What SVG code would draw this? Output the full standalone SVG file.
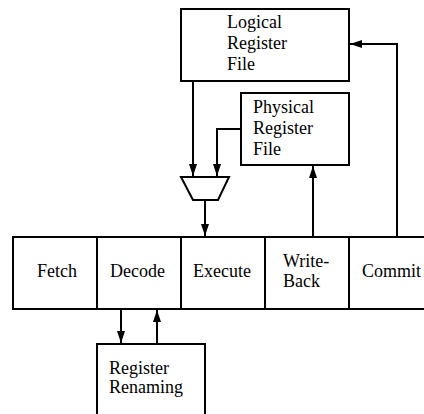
<svg xmlns="http://www.w3.org/2000/svg" width="424" height="414" viewBox="0 0 424 414">
  <style>
    .box { fill: #fff; stroke: #000; stroke-width: 2; }
    .wire { fill: none; stroke: #000; stroke-width: 2; }
    .lbl { font-family: 'Liberation Serif', 'Times New Roman', Times, serif; font-size: 18px; fill: #000; }
  </style>
  <defs>
    <marker id="arrow" viewBox="0 0 12 8" refX="12" refY="4" markerWidth="12" markerHeight="8" markerUnits="userSpaceOnUse" orient="auto">
      <path d="M0,0 L12,4 L0,8 Z" fill="#000"/>
    </marker>
  </defs>

  <!-- Logical register file -->
  <g id="logical-rf">
    <rect class="box" x="181" y="9" width="168" height="72"/>
    <text class="lbl" x="227" y="28">Logical</text>
    <text class="lbl" x="227" y="49">Register</text>
    <text class="lbl" x="227" y="70">File</text>
  </g>

  <!-- Physical register file -->
  <g id="physical-rf">
    <rect class="box" x="241" y="93" width="108" height="72"/>
    <text class="lbl" x="253" y="113">Physical</text>
    <text class="lbl" x="253" y="134">Register</text>
    <text class="lbl" x="253" y="155">File</text>
  </g>

  <!-- Operand multiplexer -->
  <g id="mux">
    <polygon class="box" points="181,177 229,177 218,200 193,200"/>
  </g>

  <!-- Pipeline stages -->
  <g id="pipeline">
    <rect class="box" x="13" y="237" width="420" height="72"/>
    <line class="wire" x1="97" y1="237" x2="97" y2="309"/>
    <line class="wire" x1="181" y1="237" x2="181" y2="309"/>
    <line class="wire" x1="265" y1="237" x2="265" y2="309"/>
    <line class="wire" x1="349" y1="237" x2="349" y2="309"/>
  </g>
  <g id="fetch"><text class="lbl" x="37" y="277">Fetch</text></g>
  <g id="decode"><text class="lbl" x="110" y="277">Decode</text></g>
  <g id="execute"><text class="lbl" x="193" y="277">Execute</text></g>
  <g id="writeback">
    <text class="lbl" x="283" y="267">Write-</text>
    <text class="lbl" x="283" y="287">Back</text>
  </g>
  <g id="commit"><text class="lbl" x="362" y="277">Commit</text></g>

  <!-- Register renaming -->
  <g id="renaming">
    <rect class="box" x="97" y="344" width="108" height="80"/>
    <text class="lbl" x="109" y="374">Register</text>
    <text class="lbl" x="109" y="393">Renaming</text>
  </g>

  <!-- Connectors -->
  <g id="connectors">
    <polyline class="wire" points="193,81 193,176" marker-end="url(#arrow)"/>
    <polyline class="wire" points="241,129 217,129 217,176" marker-end="url(#arrow)"/>
    <polyline class="wire" points="205,200 205,236" marker-end="url(#arrow)"/>
    <polyline class="wire" points="313,237 313,166" marker-end="url(#arrow)"/>
    <polyline class="wire" points="397,237 397,44 350,44" marker-end="url(#arrow)"/>
    <polyline class="wire" points="121,309 121,343" marker-end="url(#arrow)"/>
    <polyline class="wire" points="157,344 157,310" marker-end="url(#arrow)"/>
  </g>
</svg>
